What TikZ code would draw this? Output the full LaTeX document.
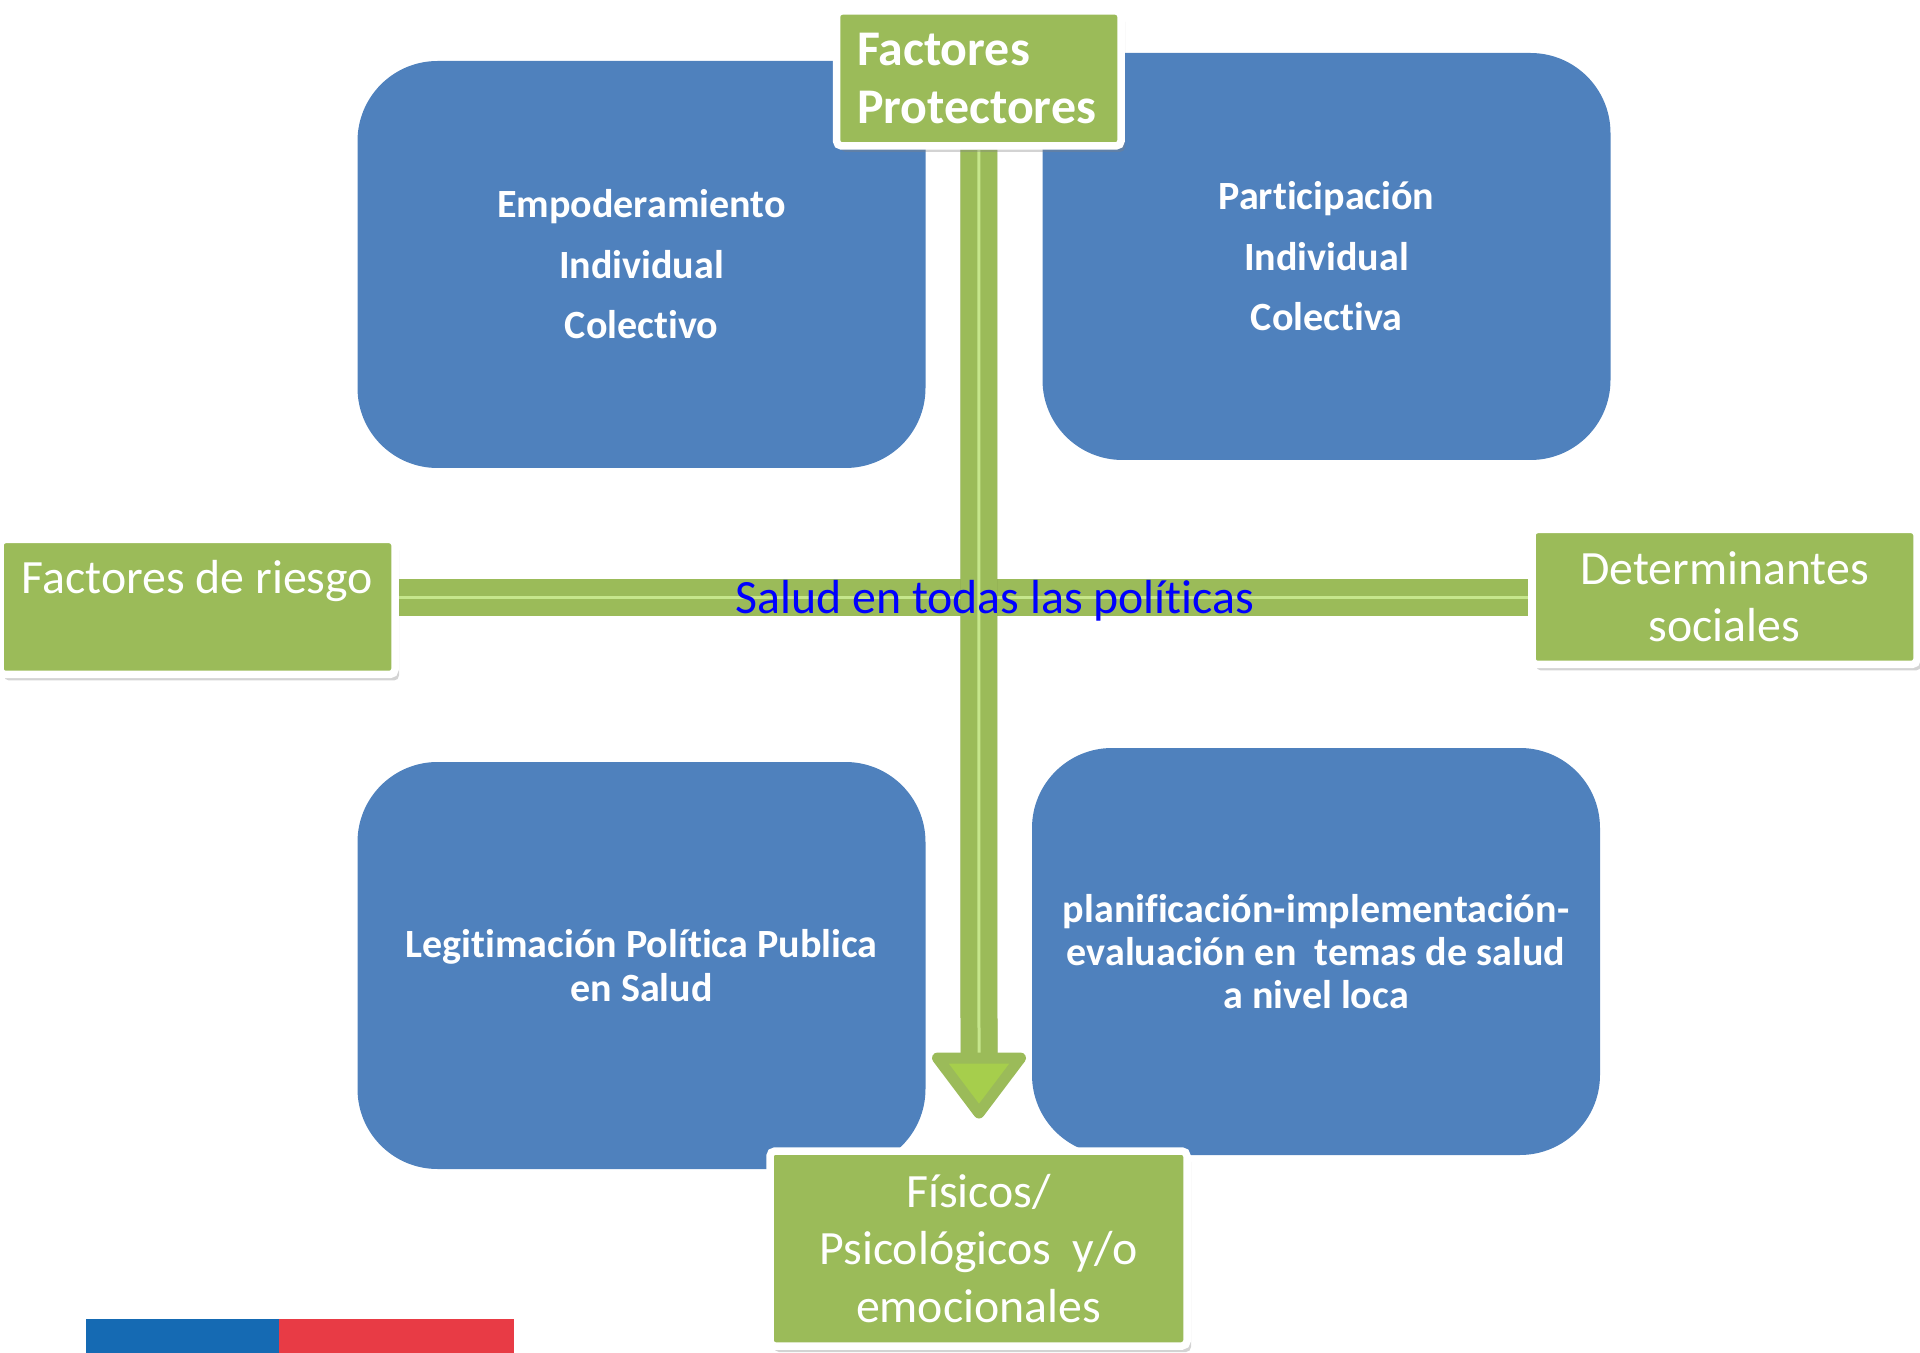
\documentclass[tikz,border=0pt]{standalone}
\usepackage{fontspec}
\setmainfont{Carlito}[Ligatures={NoCommon,NoContextual},Contextuals=NoAlternate]
\usetikzlibrary{shadows,calc}
\definecolor{boxblue}{HTML}{4F81BD}
\definecolor{boxgreen}{HTML}{9BBB59}
\definecolor{lightgreen}{HTML}{C6E68C}
\definecolor{headgreen}{HTML}{A6CE4C}
\definecolor{saludblue}{HTML}{0000FF}
\definecolor{flagblue}{HTML}{156AB3}
\definecolor{flagred}{HTML}{E83B45}
\pgfdeclarelayer{back}
\pgfdeclarelayer{bars}
\pgfsetlayers{back,bars,main}
\begin{document}
\begin{tikzpicture}[x=0.1mm,y=-0.1mm,
  bluebox/.style={fill=boxblue,rounded corners=8mm,text=white,align=center,
    minimum width=56.8mm,minimum height=40.7mm},
  greenbox/.style={fill=boxgreen,draw=white,line width=0.75mm,rounded corners=0.5mm,
    text=white,font=\fontsize{13.6}{16.3}\selectfont,
    drop shadow={opacity=0.35,shadow xshift=0.4mm,shadow yshift=-0.6mm}},
  barline/.style={line width=3.7mm,draw=boxgreen},
  barlight/.style={line width=0.3mm,draw=lightgreen},
  barshadow/.style={line width=3.7mm,draw=black,opacity=0.15}]
  \useasboundingbox (0,0) rectangle (1920,1353);
  % blue boxes
  \begin{pgfonlayer}{back}
  \node[bluebox,font=\bfseries\fontsize{11.4}{17.2}\selectfont] at(641.5,264.5)(empod){Empoderamiento\\Individual\\Colectivo};
  \node[bluebox,font=\bfseries\fontsize{11.4}{17.2}\selectfont] at(1326.5,256.5)(partic){Participación\\Individual\\Colectiva};
  \node[bluebox,font=\bfseries\fontsize{11.4}{12.4}\selectfont] at(641.5,965.5)(legit){Legitimación Política Publica\\en Salud};
  \node[bluebox,font=\bfseries\fontsize{11.4}{12.2}\selectfont] at(1316,951.5)(planif){planificación-implementación-\\evaluación en\ \ temas de salud\\a nivel loca};
  \end{pgfonlayer}
  % green boxes
  \node[greenbox,minimum height=13.5mm,text width=24.35mm,inner xsep=2.05mm,align=left,
    font=\bfseries\fontsize{14.2}{16.3}\selectfont] at(978.8,78.5)(protect){Factores\\Protectores};
  \node[greenbox,minimum width=39.5mm,inner ysep=0pt,text height=5.35mm,text depth=8.15mm] at(197.5,607)(riesgo){Factores de riesgo};
  \node[greenbox,minimum width=38.5mm,minimum height=13.5mm,align=center] at(1724.5,597)(determ){Determinantes\\sociales};
  \node[greenbox,minimum width=41.7mm,minimum height=19.5mm,align=center] at(978.5,1248.5)(fisicos){Físicos/\\Psicológicos\ \ y/o\\emocionales};
  % bars
  \coordinate (hmid) at (979,597.5);
  \coordinate (vtip) at (979,1113);
  \begin{pgfonlayer}{bars}
  \draw[barshadow,xshift=0.3mm,yshift=-0.6mm] (riesgo.east |- hmid) -- (determ.west |- hmid);
  \draw[barline] (riesgo.east |- hmid) -- (determ.west |- hmid);
  \draw[barlight] (riesgo.east |- hmid) -- (determ.west |- hmid);
  \draw[barshadow,xshift=0.4mm,yshift=-0.4mm] (protect.south) -- ($(vtip)+(0,-55)$);
  \draw[barline] (protect.south) -- ($(vtip)+(0,-55)$);
  \draw[barlight] (protect.south) -- ($(vtip)+(0,-45)$);
  % arrow head
  \filldraw[fill=headgreen,draw=boxgreen,line width=1.1mm,line join=round]
    ($(vtip)+(-41.5,-55)$) -- ($(vtip)+(41.5,-55)$) -- (vtip) -- cycle;
  \end{pgfonlayer}
  % title on the bar
  \node[text=saludblue,font=\fontsize{13.6}{16}\selectfont] at(995,601)(salud){Salud en todas las políticas};
  % flag
  \fill[flagblue] (86,1319) rectangle (279,1353);
  \fill[flagred] (279,1319) rectangle (514,1353);
\end{tikzpicture}
\end{document}
